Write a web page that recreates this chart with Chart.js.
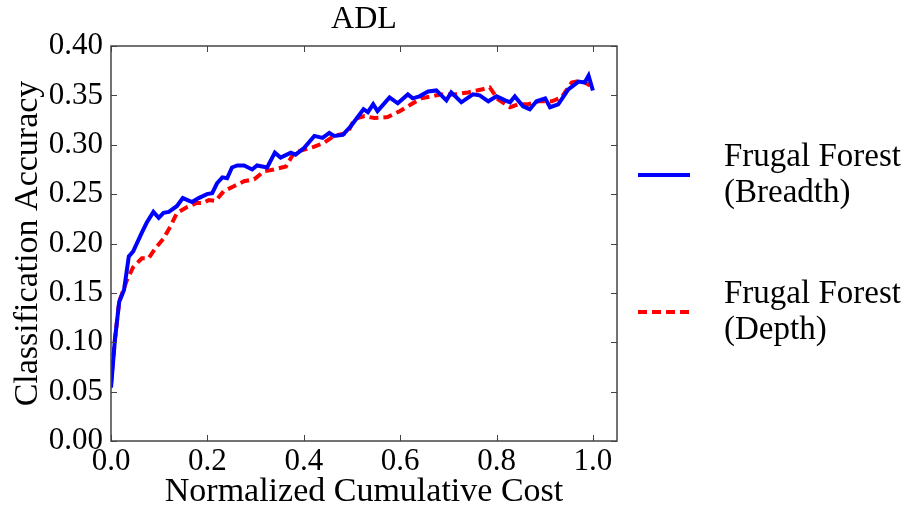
<!DOCTYPE html>
<html>
<head>
<meta charset="utf-8">
<script src="https://cdn.jsdelivr.net/npm/chart.js@4.4.1/dist/chart.umd.min.js"></script>
<style>
  body { margin: 0; background: #fff; }
  #wrap { width: 909px; height: 512px; }
</style>
</head>
<body>
<div id="wrap"><canvas id="myChart" width="909" height="512"></canvas></div>
<script>
var chartTitle = 'ADL'
var xLabel = 'Normalized Cumulative Cost'
var yLabel = 'Classification Accuracy'
var seriesNames = [['Frugal Forest', '(Breadth)'], ['Frugal Forest', '(Depth)']]

// breadth-first series
var breadthX = [0, 0.008, 0.017, 0.027, 0.037, 0.046, 0.064, 0.074, 0.088, 0.099,
  0.109, 0.120, 0.137, 0.149, 0.168, 0.182, 0.199, 0.210, 0.220, 0.231,
  0.241, 0.251, 0.262, 0.276, 0.293, 0.303, 0.324, 0.340, 0.352, 0.373,
  0.383, 0.401, 0.422, 0.439, 0.453, 0.463, 0.481, 0.498, 0.524, 0.533,
  0.544, 0.553, 0.578, 0.595, 0.616, 0.626, 0.640, 0.658, 0.675, 0.696,
  0.706, 0.727, 0.751, 0.765, 0.783, 0.800, 0.818, 0.828, 0.838, 0.855,
  0.869, 0.883, 0.901, 0.911, 0.928, 0.949, 0.970, 0.983, 0.991, 1.0]
var breadthY = [0.054, 0.102, 0.141, 0.153, 0.187, 0.192, 0.211, 0.221, 0.232, 0.226,
  0.231, 0.232, 0.238, 0.246, 0.242, 0.246, 0.250, 0.251, 0.261, 0.267,
  0.266, 0.277, 0.279, 0.279, 0.275, 0.279, 0.277, 0.292, 0.287, 0.292,
  0.290, 0.297, 0.309, 0.307, 0.312, 0.309, 0.310, 0.319, 0.336, 0.333,
  0.341, 0.334, 0.348, 0.342, 0.351, 0.347, 0.349, 0.354, 0.355, 0.345,
  0.353, 0.343, 0.351, 0.350, 0.344, 0.349, 0.345, 0.343, 0.349, 0.339,
  0.336, 0.344, 0.347, 0.338, 0.341, 0.356, 0.364, 0.363, 0.370, 0.355]

// depth-first series
var depthX = [0, 0.008, 0.017, 0.033, 0.046, 0.064, 0.078, 0.092, 0.109, 0.123,
  0.137, 0.158, 0.178, 0.192, 0.203, 0.217, 0.234, 0.255, 0.276, 0.297,
  0.317, 0.338, 0.363, 0.380, 0.401, 0.422, 0.442, 0.463, 0.491, 0.505,
  0.526, 0.547, 0.574, 0.599, 0.623, 0.644, 0.665, 0.685, 0.713, 0.741,
  0.769, 0.786, 0.803, 0.828, 0.845, 0.866, 0.887, 0.915, 0.935, 0.956,
  0.977, 0.994, 1.0]
var depthY = [0.058, 0.102, 0.141, 0.163, 0.176, 0.185, 0.185, 0.195, 0.205, 0.217,
  0.231, 0.237, 0.241, 0.241, 0.244, 0.243, 0.253, 0.258, 0.263, 0.265,
  0.273, 0.275, 0.278, 0.292, 0.295, 0.298, 0.302, 0.309, 0.312, 0.326,
  0.329, 0.327, 0.328, 0.334, 0.341, 0.347, 0.349, 0.351, 0.351, 0.353,
  0.356, 0.358, 0.346, 0.338, 0.341, 0.341, 0.344, 0.344, 0.348, 0.363,
  0.365, 0.360, 0.355]

var xTickStep = 0.2
var yTickStep = 0.05

function toPoints(xs, ys) {
    return xs.map(function (x, i) { return {x: x, y: ys[i]} })
}

var serif = '"Liberation Serif", "DejaVu Serif", serif'
var axisColor = '#444'

// box, inward ticks on all sides, title and legend
var decor = {
    id: 'decor',
    afterDraw: function (chart) {
        var ctx = chart.ctx
        var a = chart.chartArea
        var xs = chart.scales.x, ys = chart.scales.y
        ctx.save()
        ctx.strokeStyle = axisColor
        ctx.lineWidth = 1.5
        ctx.strokeRect(a.left, a.top, a.right - a.left, a.bottom - a.top)
        ctx.lineWidth = 1
        ctx.beginPath()
        xs.ticks.forEach(function (t) {
            var px = Math.round(xs.getPixelForValue(t.value)) + 0.5
            ctx.moveTo(px, a.bottom); ctx.lineTo(px, a.bottom - 6)
            ctx.moveTo(px, a.top); ctx.lineTo(px, a.top + 6)
        })
        ys.ticks.forEach(function (t) {
            var py = Math.round(ys.getPixelForValue(t.value)) + 0.5
            ctx.moveTo(a.left, py); ctx.lineTo(a.left + 6, py)
            ctx.moveTo(a.right, py); ctx.lineTo(a.right - 6, py)
        })
        ctx.stroke()

        ctx.fillStyle = '#000'
        ctx.font = '32px ' + serif
        ctx.textAlign = 'center'
        ctx.textBaseline = 'middle'
        ctx.fillText(chartTitle, (a.left + a.right) / 2, 20)

        // legend
        ctx.font = '33px ' + serif
        ctx.textAlign = 'left'
        chart.data.datasets.forEach(function (ds, i) {
            var cy = 175 + i * 137
            ctx.strokeStyle = ds.borderColor
            ctx.lineWidth = ds.borderWidth
            ctx.setLineDash(ds.borderDash || [])
            ctx.beginPath()
            ctx.moveTo(638, cy); ctx.lineTo(690, cy)
            ctx.stroke()
            ctx.setLineDash([])
            ds.label.forEach(function (line, j) {
                ctx.fillText(line, 724, cy - 18 + j * 36)
            })
        })
        ctx.restore()
    }
}

const ctx = document.getElementById('myChart')
var myPlot = new Chart(ctx, {
    type: 'line',
    data: {
        datasets: [{
            label: seriesNames[0],
            data: toPoints(breadthX, breadthY),
            borderColor: '#0000ff',
            borderWidth: 4,
            pointRadius: 0,
            tension: 0,
            fill: false
        }, {
            label: seriesNames[1],
            data: toPoints(depthX, depthY),
            borderColor: '#ff0000',
            borderWidth: 4,
            borderDash: [9, 5],
            pointRadius: 0,
            tension: 0,
            fill: false
        }]
    },
    options: {
        responsive: false,
        animation: false,
        layout: { padding: { top: 46, right: 292, left: 0, bottom: 0 } },
        plugins: {
            legend: { display: false },
            title: { display: false },
            tooltip: { enabled: false }
        },
        scales: {
            x: {
                type: 'linear',
                min: 0,
                max: 1.05,
                grid: { display: false, drawTicks: false },
                border: { display: false },
                ticks: {
                    stepSize: xTickStep,
                    includeBounds: false,
                    maxRotation: 0,
                    padding: 2,
                    color: '#000',
                    font: { family: serif, size: 31 },
                    callback: function (v) { return v.toFixed(1) }
                },
                title: {
                    display: true,
                    text: xLabel,
                    color: '#000',
                    font: { family: serif, size: 34 },
                    padding: { top: 0, bottom: 0 }
                },
                afterFit: function (scale) { scale.height = 71 }
            },
            y: {
                min: 0,
                max: 0.4,
                grid: { display: false, drawTicks: false },
                border: { display: false },
                ticks: {
                    stepSize: yTickStep,
                    padding: 8,
                    color: '#000',
                    font: { family: serif, size: 31 },
                    callback: function (v) { return v.toFixed(2) }
                },
                title: {
                    display: true,
                    text: yLabel,
                    color: '#000',
                    font: { family: serif, size: 34 },
                    padding: { top: 8, bottom: 0 }
                },
                afterFit: function (scale) { scale.width = 111 }
            }
        }
    },
    plugins: [decor]
});
</script>
</body>
</html>
